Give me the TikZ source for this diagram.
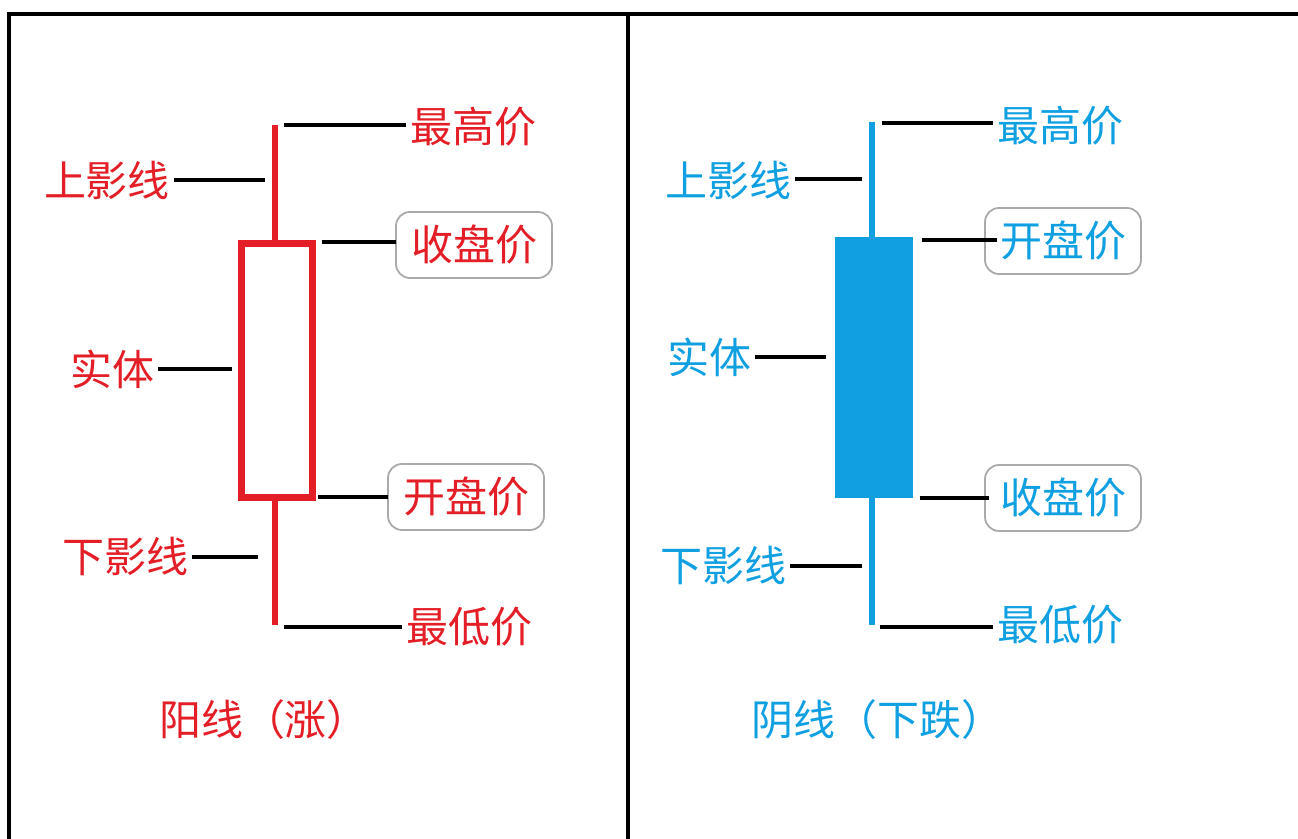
\documentclass[tikz,border=0pt]{standalone}
\usepackage{fontspec}
\newfontfamily\cjk{Noto Sans CJK SC}
\usepackage{tikz}
\usetikzlibrary{positioning}
\definecolor{upred}{RGB}{228,30,38}
\definecolor{downblue}{RGB}{16,160,226}
\definecolor{boxgray}{RGB}{170,170,170}
\tikzset{
	lbl/.style={font=\cjk\fontsize{21}{25}\selectfont, inner sep=0pt, outer sep=2pt, text height=18.5pt, text depth=2.5pt},
	pricebox/.style={lbl, draw=boxgray, line width=0.9pt, rounded corners=7pt, inner xsep=7.5pt, inner ysep=6pt, outer sep=0pt},
	leader/.style={black, line width=1.8pt},
	wick/.style={line width=3pt},
	frame/.style={black, line width=2pt}
}

\begin{document}
\begin{tikzpicture}[x=0.5pt, y=-0.5pt]
		\useasboundingbox (0,0) rectangle (1298,839);
		% Frame:
		\draw[frame] (9,839) -- (9,14) -- (1298,14);
		\draw[frame] (628,14) -- (628,839);

		% Left candle (up):
		\draw[wick, upred] (275,125) -- (275,625);
		\draw[upred, line width=3.5pt, fill=white] (241,244) rectangle (312,498);
		\coordinate (hiLa) at (284,125);
		\coordinate (upLa) at (265,180);
		\coordinate (closeLa) at (322,242);
		\coordinate (bodyLa) at (232,369);
		\coordinate (openLa) at (318,497);
		\coordinate (shadLa) at (258,557);
		\coordinate (lowLa) at (284,627);
		\node[lbl, text=upred, anchor=west] (hiL) at (406,127) {最高价};
		\node[lbl, text=upred, anchor=east] (upL) at (174,181) {上影线};
		\node[pricebox, text=upred, anchor=west] (closeL) at (396,245) {收盘价};
		\node[lbl, text=upred, anchor=east] (bodyL) at (158,370) {实体};
		\node[pricebox, text=upred, anchor=west] (openL) at (388,497) {开盘价};
		\node[lbl, text=upred, anchor=east] (shadL) at (192,557) {下影线};
		\node[lbl, text=upred, anchor=west] (lowL) at (402,627) {最低价};
		\node[lbl, text=upred] (titleL) at (264,720) {阳线（涨）};
		\draw[leader] (hiLa) -- (hiLa -| hiL.west);
		\draw[leader] (upLa) -- (upLa -| upL.east);
		\draw[leader] (closeLa) -- (closeLa -| closeL.west);
		\draw[leader] (bodyLa) -- (bodyLa -| bodyL.east);
		\draw[leader] (openLa) -- (openLa -| openL.west);
		\draw[leader] (shadLa) -- (shadLa -| shadL.east);
		\draw[leader] (lowLa) -- (lowLa -| lowL.west);

		% Right candle (down):
		\draw[wick, downblue] (872,122) -- (872,625);
		\fill[downblue] (835,237) rectangle (913,498);
		\coordinate (hiRa) at (882,123);
		\coordinate (upRa) at (862,179);
		\coordinate (openRa) at (922,240);
		\coordinate (bodyRa) at (826,357);
		\coordinate (closeRa) at (920,498);
		\coordinate (shadRa) at (862,566);
		\coordinate (lowRa) at (880,627);
		\node[lbl, text=downblue, anchor=west] (hiR) at (993,126) {最高价};
		\node[lbl, text=downblue, anchor=east] (upR) at (795,181) {上影线};
		\node[pricebox, text=downblue, anchor=west] (openR) at (985,241) {开盘价};
		\node[lbl, text=downblue, anchor=east] (bodyR) at (755,358) {实体};
		\node[pricebox, text=downblue, anchor=west] (closeR) at (985,498) {收盘价};
		\node[lbl, text=downblue, anchor=east] (shadR) at (790,566) {下影线};
		\node[lbl, text=downblue, anchor=west] (lowR) at (993,625) {最低价};
		\node[lbl, text=downblue] (titleR) at (877,720) {阴线（下跌）};
		\draw[leader] (hiRa) -- (hiRa -| hiR.west);
		\draw[leader] (upRa) -- (upRa -| upR.east);
		\draw[leader] (openRa) -- ([xshift=6pt]openRa -| openR.west);
		\draw[leader] (bodyRa) -- (bodyRa -| bodyR.east);
		\draw[leader] (closeRa) -- ([xshift=2pt]closeRa -| closeR.west);
		\draw[leader] (shadRa) -- (shadRa -| shadR.east);
		\draw[leader] (lowRa) -- (lowRa -| lowR.west);
	\end{tikzpicture}
\end{document}
